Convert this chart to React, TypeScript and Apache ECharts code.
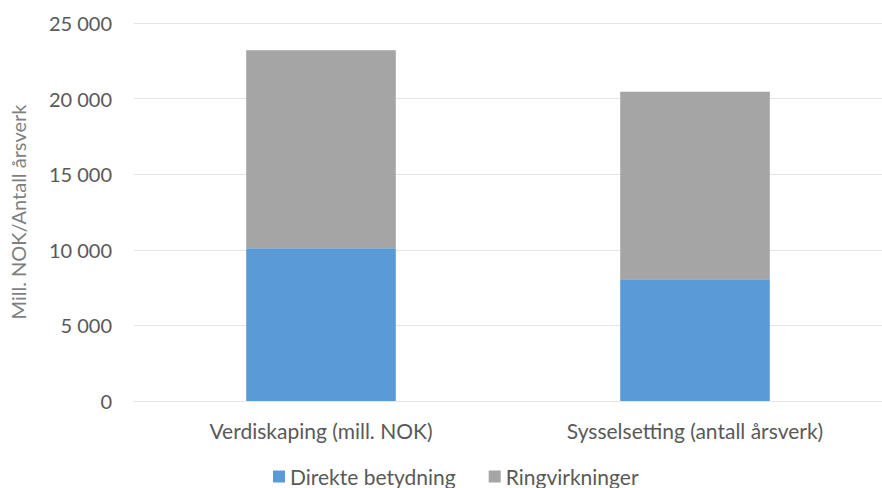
import React, { useEffect, useRef } from "react";
import * as echarts from "echarts";

const categories = ["Verdiskaping (mill. NOK)", "Sysselsetting (antall årsverk)"];
const direkte = [10100, 8050];
const ringvirkninger = [13100, 12400];
const seriesNames = ["Direkte betydning", "Ringvirkninger"];
const yAxisName = "Mill. NOK/Antall årsverk";

const fmt = (v: number) => {
  const s = String(Math.round(v));
  return s.replace(/\B(?=(\d{3})+(?!\d))/g, " ");
};

export default function App() {
  const ref = useRef<HTMLDivElement>(null);
  useEffect(() => {
    document.body.style.margin = "0";
    if (!ref.current) return;
    const chart = echarts.init(ref.current, undefined, { renderer: "svg" });
    const font = "Lato, 'Open Sans', sans-serif";
    chart.setOption({
      animation: false,
      textStyle: { fontFamily: font },
      grid: { left: 125, right: -2, top: 23, bottom: 87, containLabel: false },
      legend: {
        data: seriesNames,
        top: 461,
        left: 268,
        itemWidth: 12,
        itemHeight: 12,
        itemGap: 33,
        icon: "rect",
        textStyle: { fontSize: 21, color: "#595959", fontFamily: font },
      },
      xAxis: {
        type: "category",
        data: categories,
        axisLine: { show: true, lineStyle: { color: "#E5E5E5" } },
        axisTick: { show: false },
        axisLabel: { fontSize: 21, color: "#595959", margin: 19, fontFamily: font },
      },
      yAxis: {
        type: "value",
        min: 0,
        max: 25000,
        interval: 5000,
        name: yAxisName,
        nameLocation: "middle",
        nameGap: 106,
        nameTextStyle: { fontSize: 20, color: "#7f7f7f", fontFamily: font },
        axisLine: { show: false },
        axisTick: { show: false },
        splitLine: { lineStyle: { color: "#E5E5E5" } },
        axisLabel: { fontSize: 20, color: "#595959", margin: 22, formatter: fmt, fontFamily: font },
      },
      series: [
        {
          name: seriesNames[0],
          type: "bar",
          stack: "total",
          data: direkte,
          barWidth: "40%",
          itemStyle: { color: "#5B9BD5" },
        },
        {
          name: seriesNames[1],
          type: "bar",
          stack: "total",
          data: ringvirkninger,
          barWidth: "40%",
          itemStyle: { color: "#A5A5A5" },
        },
      ],
    });
    return () => chart.dispose();
  }, []);
  return <div ref={ref} style={{ width: 882, height: 488 }} />;
}
